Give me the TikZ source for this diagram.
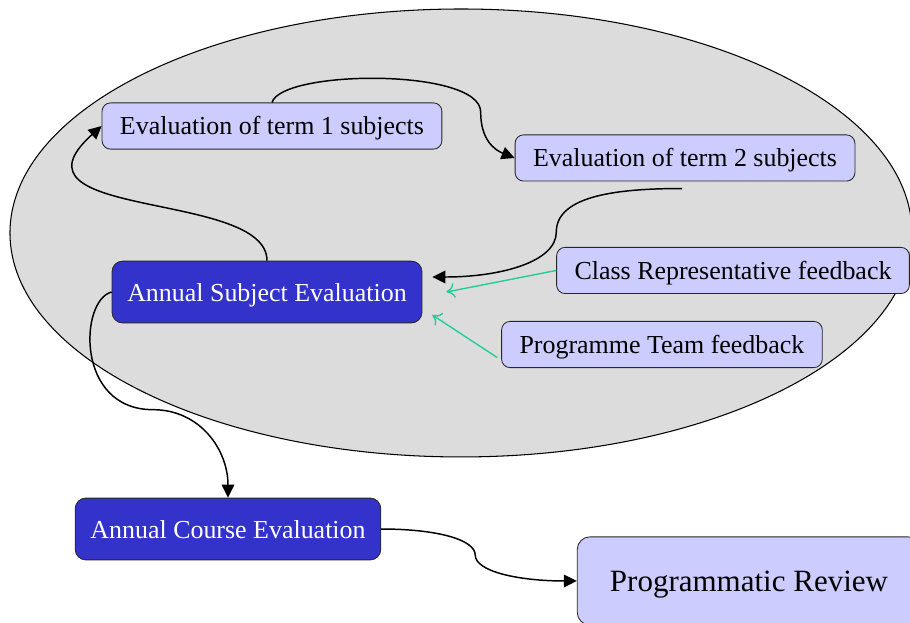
\documentclass[tikz,border=0pt]{standalone}
\usepackage{fontspec}
\setmainfont{Liberation Serif}
\usepackage{tikz}
\usetikzlibrary{arrows.meta,calc}

\definecolor{termfill}{HTML}{CCCCFF}
\definecolor{evalfill}{HTML}{3333CC}
\definecolor{loopgray}{HTML}{DCDCDC}
\definecolor{feedgreen}{HTML}{22CC99}

\tikzset{
  termbox/.style={draw=black!85, fill=termfill, rounded corners=4pt, inner xsep=8.5pt,
    minimum height=0.77cm, text height=10.5pt, text depth=2pt,
    font=\fontsize{12.3pt}{14pt}\selectfont},
  evalbox/.style={draw=black!85, fill=evalfill, text=white, rounded corners=5pt, inner xsep=7.2pt,
    minimum height=1.03cm, text height=10.8pt, text depth=1.6pt,
    font=\fontsize{12.3pt}{14pt}\selectfont},
  reviewbox/.style={termbox, rounded corners=6pt, inner xsep=15.5pt, minimum height=1.47cm,
    text height=12.5pt, text depth=2.5pt, font=\fontsize{14.7pt}{17pt}\selectfont},
  flow/.style={line width=0.7pt, -{Triangle[length=6.2pt,width=6pt]}},
  feed/.style={feedgreen, line width=0.65pt, -{To[length=4pt,width=7pt]}}
}

\begin{document}
\begin{tikzpicture}
\useasboundingbox (0,0) rectangle (15.167,-10.383);
\draw[fill=loopgray, line width=0.5pt] (7.683,-3.883) ellipse (7.517 and 3.733);

\node[termbox] (E1) at (4.533,-2.1) {Evaluation of term 1 subjects};
\node[termbox] (E2) at (11.417,-2.633) {Evaluation of term 2 subjects};
\node[evalbox] (ASE) at (4.45,-4.867) {Annual Subject Evaluation};
\node[termbox] (CR) at (12.217,-4.508) {Class Representative feedback};
\node[termbox] (PT) at (11.033,-5.742) {Programme Team feedback};
\node[evalbox] (ACE) at (3.8,-8.817) {Annual Course Evaluation};
\node[reviewbox] (PR) at (12.483,-9.683) {Programmatic Review};

\draw[flow] (ASE.north) .. controls +(0,1.18) and +(-1.75,-1.567) .. (E1.west);
\draw[flow] (E1.north) .. controls +(0.167,0.55) and +(0,0.733) .. ($(E2.west)+(-0.567,0.767)$)
  .. controls +(0,-0.467) and +(-0.333,0.133) .. (E2.west);
\draw[flow] ($(E2.south)+(-0.05,-0.117)$) .. controls +(-1.033,0) and +(0,0.617) .. ($(ASE.east)+(2.233,1)$)
  .. controls +(0,-0.5) and +(1.133,0) .. ($(ASE.east)+(0.167,0.25)$);

\draw[feed] (CR.west) -- ($(ASE.east)+(0.4,0)$);
\draw[feed] ($(PT.west)+(-0.067,-0.217)$) -- ($(ASE.east)+(0.167,-0.383)$);

\draw[flow] (ASE.west) .. controls +(-0.533,-0.133) and +(-1.3,0) .. ($(ACE.north)+(-1.25,1.467)$)
  .. controls +(0.783,0) and +(0,0.8) .. (ACE.north);
\draw[flow] (ACE.east) .. controls +(0.95,0) and +(0,0.25) .. ($(ACE.east)+(1.567,-0.433)$)
  .. controls +(0,-0.28) and +(-0.95,0) .. (PR.west);
\end{tikzpicture}
\end{document}
